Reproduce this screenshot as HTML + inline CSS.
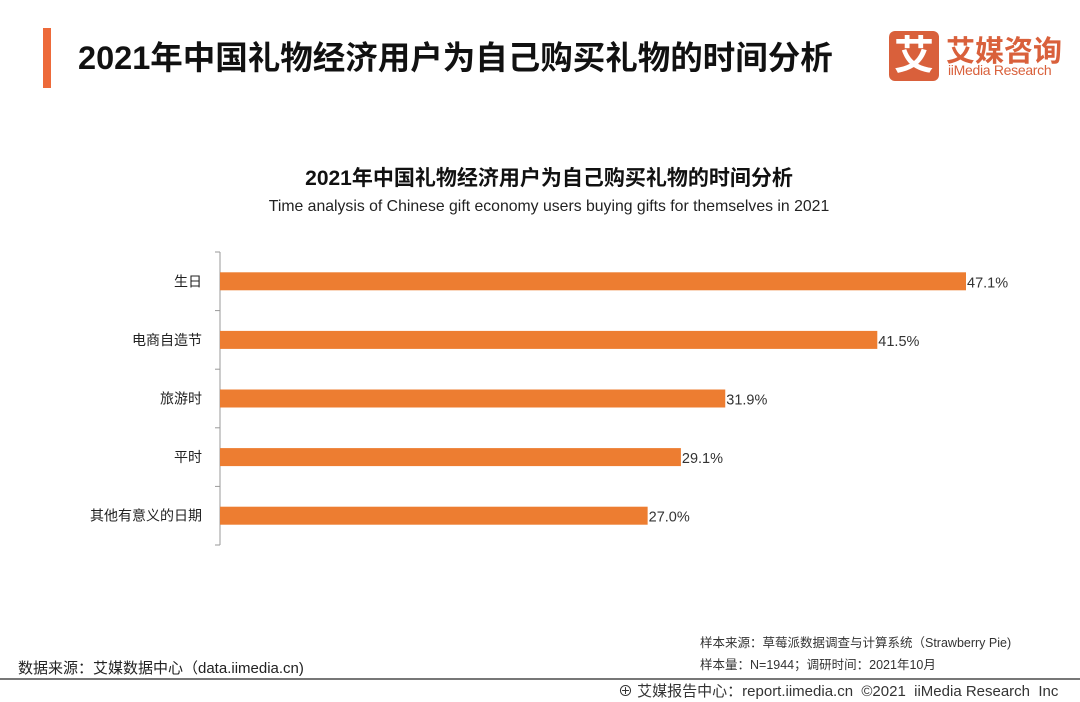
<!DOCTYPE html>
<html><head><meta charset="utf-8"><style>
body{margin:0;width:1080px;height:702px;background:#fff;position:relative;overflow:hidden;font-family:"Liberation Sans","Noto Sans CJK SC",sans-serif;color:#222}
.a{position:absolute;white-space:nowrap}
</style></head><body>
<div class="a" style="left:43px;top:28px;width:8px;height:60px;background:#ed6a3a"></div>
<div class="a" style="left:78px;top:32px;font-size:32.5px;font-weight:bold;color:#111">2021年中国礼物经济用户为自己购买礼物的时间分析</div>
<div class="a" style="left:889px;top:31px;width:50px;height:50px;background:#d9603b;border-radius:6px;color:#fff;font-size:40px;font-weight:bold;text-align:center;line-height:50px">艾</div>
<div class="a" style="left:946px;top:28px;font-size:29px;font-weight:bold;color:#d9603b">艾媒咨询</div>
<div class="a" style="left:948px;top:62px;font-size:14px;color:#d9603b;letter-spacing:-0.3px">iiMedia Research</div>
<div class="a" style="left:0;width:1098px;text-align:center;top:162px;font-size:21px;font-weight:bold;color:#111">2021年中国礼物经济用户为自己购买礼物的时间分析</div>
<div class="a" style="left:0;width:1098px;text-align:center;top:198px;font-size:15.8px;color:#222">Time analysis of Chinese gift economy users buying gifts for themselves in 2021</div>
<svg class="a" style="left:0;top:0" width="1080" height="702" id="chart"></svg>
<div class="a" style="left:700px;top:632px;font-size:12.5px;color:#333">样本来源：草莓派数据调查与计算系统（Strawberry Pie)</div>
<div class="a" style="left:700px;top:654px;font-size:12.5px;color:#333">样本量：N=1944；调研时间：2021年10月</div>
<div class="a" style="left:18px;top:657px;font-size:15px;color:#222">数据来源：艾媒数据中心（data.iimedia.cn)</div>
<div class="a" style="left:0;top:678px;width:1080px;height:2px;background:#777"></div>
<div class="a" style="left:618px;top:680px;font-size:15px;color:#333">⊕ 艾媒报告中心：report.iimedia.cn &nbsp;©2021 &nbsp;iiMedia Research &nbsp;Inc</div>
<script>
const categories=["生日","电商自造节","旅游时","平时","其他有意义的日期"];
const values=[47.1,41.5,31.9,29.1,27.0];
const labels=["47.1%","41.5%","31.9%","29.1%","27.0%"];
const svg=document.getElementById('chart');const ns="http://www.w3.org/2000/svg";
const x0=220,scale=746/47.1,top0=252,band=58.6,bh=18;
const xs=v=>x0+v*scale, yc=i=>top0+band*(i+0.5);
function mk(t,a){const e=document.createElementNS(ns,t);for(const k in a)e.setAttribute(k,a[k]);svg.appendChild(e);return e;}
const ax=mk('line',{x1:x0,x2:x0,y1:top0,y2:top0+band*categories.length,stroke:'#999','stroke-width':1});


for(let i=0;i<=categories.length;i++){const t=mk('line',{x1:x0-5,x2:x0,y1:top0+band*i,y2:top0+band*i,stroke:'#999'});

}
categories.forEach((c,i)=>{
const r=mk('rect',{x:x0,y:yc(i)-bh/2,width:xs(values[i])-x0,height:bh,fill:'#ed7d31'});


const l=mk('text',{x:x0-18,y:yc(i)+5,'text-anchor':'end','font-size':14,fill:'#222'});l.textContent=c;


const v=mk('text',{x:xs(values[i])+1,y:yc(i)+6,'font-size':14.5,fill:'#333'});v.textContent=labels[i];


});
</script>
</body></html>
